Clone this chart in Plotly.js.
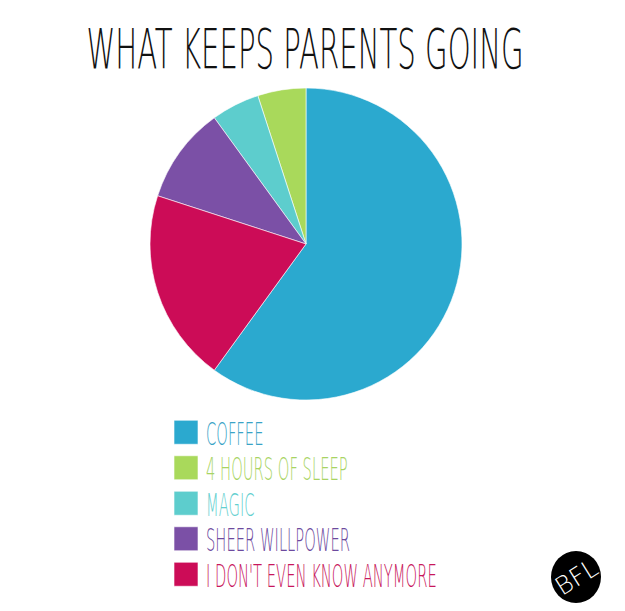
<!DOCTYPE html>
<html><head><meta charset="utf-8">
<script src="https://cdn.plot.ly/plotly-3.0.1.min.js"></script>
<style>
html,body{margin:0;padding:0;background:#fff;}
#chart{width:625px;height:611px;}
.gtitle{transform-box:fill-box;transform-origin:center;transform:scale(0.663,1.24);}
.legendtext{transform-box:fill-box;transform-origin:left center;transform:scale(0.59,1.3);}
</style></head><body><div id="chart"></div>
<script>
const labels = ["COFFEE", "4 HOURS OF SLEEP", "MAGIC", "SHEER WILLPOWER", "I DON'T EVEN KNOW ANYMORE"];
const values = [60, 5, 5, 10, 20];
const colors = ["#2ba9cf", "#a9d95b", "#5dcdcd", "#7b50a6", "#cc0c57"];
const textColors = ["#3aa3c6", "#a8d463", "#63cfcf", "#6d4a9e", "#c8175c"];

const legendLabels = labels.map((l, i) => `<span style="color:${textColors[i]}">${l}</span>`);

const data = [{
  type: 'pie',
  labels: legendLabels,
  values: values,
  sort: false,
  direction: 'counterclockwise',
  rotation: 0,
  textinfo: 'none',
  hoverinfo: 'none',
  marker: {colors: colors, line: {color: 'rgba(255,255,255,0.6)', width: 1}},
  domain: {x: [0.24, 0.7392], y: [0.3453, 0.856]}
}];

const layout = {
  width: 625, height: 611,
  margin: {l: 0, r: 0, t: 0, b: 0},
  paper_bgcolor: '#fff',
  title: {
    text: 'WHAT KEEPS PARENTS GOING',
    x: 0.488, xanchor: 'center', xref: 'container',
    y: 1 - 48.5/611, yanchor: 'middle', yref: 'container',
    font: {family: 'DejaVu Sans', size: 44, weight: 200, color: '#111'}
  },
  showlegend: true,
  legend: {
    x: 0.2656, xanchor: 'left', y: 1 - 409.5/611, yanchor: 'top',
    bgcolor: 'rgba(0,0,0,0)',
    font: {family: 'DejaVu Sans', size: 25, weight: 200, color: '#444'}
  },
  shapes: [{
    type: 'circle', xref: 'paper', yref: 'paper',
    xsizemode: 'pixel', ysizemode: 'pixel',
    xanchor: 576/625, yanchor: 1 - 577/611,
    x0: -25, x1: 25, y0: -26, y1: 26,
    fillcolor: '#000', line: {width: 0}
  }],
  annotations: [{
    text: 'BFL', xref: 'paper', yref: 'paper',
    x: 576/625, y: 1 - 577/611, xanchor: 'center', yanchor: 'middle',
    showarrow: false, textangle: -32,
    font: {family: 'DejaVu Sans', size: 25, weight: 200, color: '#fff'}
  }]
};

Plotly.newPlot('chart', data, layout, {displayModeBar: false, staticPlot: true}).then(() => {
  document.querySelectorAll('path.legendpie').forEach(p => p.setAttribute('d', 'M12,12H-12V-12H12Z'));
});
</script>
</body></html>
